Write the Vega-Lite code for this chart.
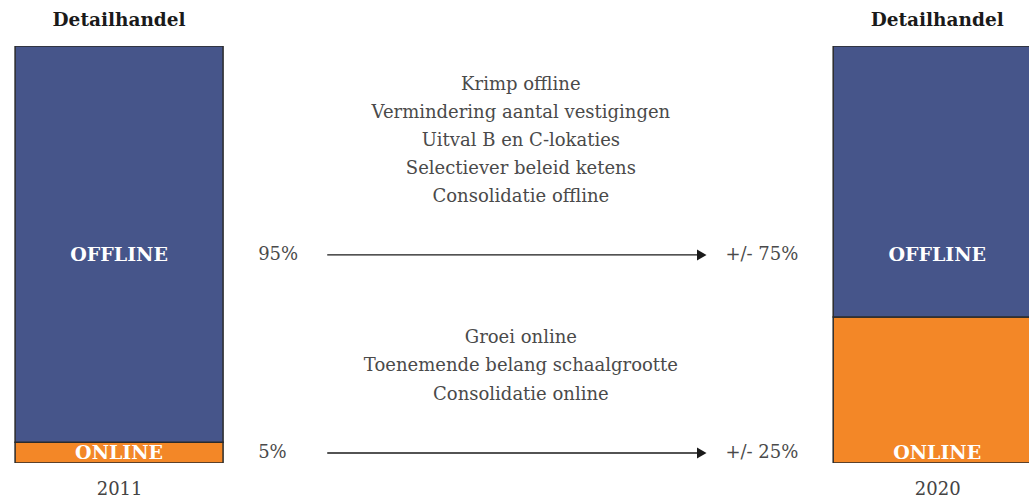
{
  "$schema": "https://vega.github.io/schema/vega-lite/v6.json",
  "width": 1029,
  "height": 417,
  "autosize": {"type": "none"},
  "padding": {"left": 0, "top": 46, "right": 0, "bottom": 34},
  "background": "white",
  "config": {"view": {"stroke": null}},
  "datasets": {
    "bars": [
      {"year": 2011, "segment": "ONLINE", "share": 5},
      {"year": 2011, "segment": "OFFLINE", "share": 95},
      {"year": 2020, "segment": "ONLINE", "share": 35},
      {"year": 2020, "segment": "OFFLINE", "share": 65}
    ],
    "labels": [
      {"year": 2011, "segment": "OFFLINE", "level": 49.9},
      {"year": 2011, "segment": "ONLINE", "level": 2.4},
      {"year": 2020, "segment": "OFFLINE", "level": 49.9},
      {"year": 2020, "segment": "ONLINE", "level": 2.4}
    ],
    "titles": [
      {"year": 2011, "title": "Detailhandel"},
      {"year": 2020, "title": "Detailhandel"}
    ],
    "drivers": [
      {"line": "Krimp offline", "level": 90.6},
      {"line": "Vermindering aantal vestigingen", "level": 84.0},
      {"line": "Uitval B en C-lokaties", "level": 77.2},
      {"line": "Selectiever beleid ketens", "level": 70.5},
      {"line": "Consolidatie offline", "level": 63.8},
      {"line": "Groei online", "level": 30.0},
      {"line": "Toenemende belang schaalgrootte", "level": 23.3},
      {"line": "Consolidatie online", "level": 16.3}
    ],
    "shifts": [
      {"segment": "OFFLINE", "from": "95%", "to": "+/- 75%", "level": 49.9},
      {"segment": "ONLINE", "from": "5%", "to": "+/- 25%", "level": 2.4}
    ]
  },
  "layer": [
    {
      "data": {"name": "bars"},
      "mark": {"type": "bar", "width": 208, "stroke": "#2b2b2b", "strokeWidth": 1.5, "clip": true},
      "encoding": {
        "x": {
          "field": "year", "type": "quantitative",
          "scale": {"domain": [2009.69, 2021.01], "nice": false, "zero": false, "padding": 0},
          "axis": {
            "values": [2011, 2020], "format": "d", "title": null,
            "domain": false, "ticks": false, "grid": false,
            "labelFont": "DejaVu Serif", "labelFontSize": 18, "labelColor": "#444444",
            "labelPadding": 17
          }
        },
        "y": {
          "field": "share", "type": "quantitative", "stack": "zero",
          "scale": {"domain": [0, 100], "nice": false, "padding": 0}, "axis": null
        },
        "order": {"field": "segment", "sort": "descending"},
        "color": {
          "field": "segment", "type": "nominal",
          "scale": {"domain": ["OFFLINE", "ONLINE"], "range": ["#46558a", "#f38727"]},
          "legend": null
        }
      }
    },
    {
      "data": {"name": "labels"},
      "mark": {"type": "text", "font": "DejaVu Serif", "fontWeight": "bold", "fontSize": 19, "color": "white", "baseline": "middle", "align": "center"},
      "encoding": {
        "x": {"field": "year", "type": "quantitative"},
        "y": {"field": "level", "type": "quantitative"},
        "text": {"field": "segment"}
      }
    },
    {
      "data": {"name": "titles"},
      "mark": {"type": "text", "font": "DejaVu Serif", "fontWeight": "bold", "fontSize": 18.5, "color": "#1a1a1a", "baseline": "middle", "align": "center", "dy": -26},
      "encoding": {
        "x": {"field": "year", "type": "quantitative"},
        "y": {"datum": 100, "type": "quantitative"},
        "text": {"field": "title"}
      }
    },
    {
      "data": {"name": "drivers"},
      "mark": {"type": "text", "font": "DejaVu Serif", "fontSize": 18, "color": "#4a4a4a", "baseline": "middle", "align": "center"},
      "encoding": {
        "x": {"datum": 2015.42, "type": "quantitative"},
        "y": {"field": "level", "type": "quantitative"},
        "text": {"field": "line"}
      }
    },
    {
      "data": {"name": "shifts"},
      "mark": {"type": "rule", "color": "#1a1a1a", "strokeWidth": 1.3},
      "encoding": {
        "x": {"datum": 2013.29, "type": "quantitative"},
        "x2": {"datum": 2017.36},
        "y": {"field": "level", "type": "quantitative"}
      }
    },
    {
      "data": {"name": "shifts"},
      "mark": {"type": "point", "shape": "triangle-right", "filled": true, "color": "#1a1a1a", "size": 121, "opacity": 1},
      "encoding": {
        "x": {"datum": 2017.41, "type": "quantitative"},
        "y": {"field": "level", "type": "quantitative"}
      }
    },
    {
      "data": {"name": "shifts"},
      "mark": {"type": "text", "font": "DejaVu Serif", "fontSize": 18, "color": "#4a4a4a", "baseline": "middle", "align": "left"},
      "encoding": {
        "x": {"datum": 2012.53, "type": "quantitative"},
        "y": {"field": "level", "type": "quantitative"},
        "text": {"field": "from"}
      }
    },
    {
      "data": {"name": "shifts"},
      "mark": {"type": "text", "font": "DejaVu Serif", "fontSize": 18, "color": "#4a4a4a", "baseline": "middle", "align": "left"},
      "encoding": {
        "x": {"datum": 2017.67, "type": "quantitative"},
        "y": {"field": "level", "type": "quantitative"},
        "text": {"field": "to"}
      }
    }
  ]
}
